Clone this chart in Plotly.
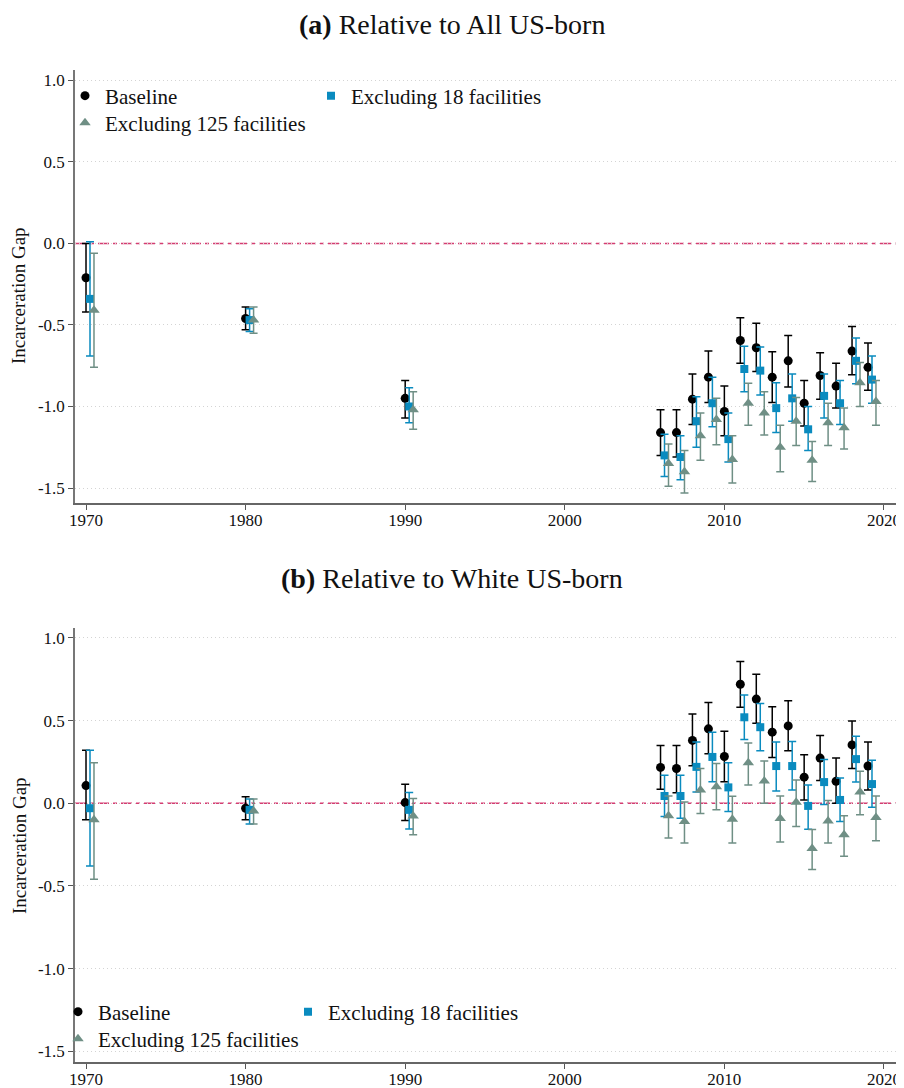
import plotly.graph_objects as go

# ---------------- data ----------------
years = [1970, 1980, 1990, 2006, 2007, 2008, 2009, 2010, 2011, 2012, 2013, 2014, 2015, 2016, 2017, 2018, 2019]

# Panel (a): relative to all US-born
base_a = [-0.21, -0.46, -0.95, -1.16, -1.16, -0.955, -0.82, -1.03, -0.595, -0.64, -0.82, -0.72, -0.98, -0.81, -0.875, -0.66, -0.76]
base_a_lo = [-0.42, -0.53, -1.07, -1.30, -1.31, -1.11, -0.975, -1.18, -0.735, -0.785, -0.975, -0.88, -1.12, -0.955, -1.01, -0.805, -0.90]
base_a_hi = [0.00, -0.39, -0.84, -1.02, -1.02, -0.80, -0.66, -0.875, -0.455, -0.49, -0.665, -0.565, -0.84, -0.67, -0.735, -0.51, -0.61]

ex18_a = [-0.34, -0.47, -1.00, -1.30, -1.31, -1.09, -0.98, -1.20, -0.77, -0.78, -1.01, -0.95, -1.14, -0.935, -0.98, -0.72, -0.835]
ex18_a_lo = [-0.69, -0.54, -1.10, -1.43, -1.45, -1.25, -1.125, -1.34, -0.91, -0.93, -1.16, -1.09, -1.27, -1.07, -1.11, -0.86, -0.98]
ex18_a_hi = [0.01, -0.40, -0.885, -1.17, -1.18, -0.94, -0.82, -1.04, -0.63, -0.635, -0.855, -0.80, -1.00, -0.80, -0.84, -0.58, -0.69]

ex125_a = [-0.41, -0.47, -1.02, -1.35, -1.40, -1.18, -1.08, -1.325, -0.98, -1.04, -1.25, -1.09, -1.33, -1.10, -1.13, -0.855, -0.97]
ex125_a_lo = [-0.76, -0.55, -1.14, -1.49, -1.53, -1.33, -1.235, -1.47, -1.115, -1.175, -1.40, -1.24, -1.46, -1.24, -1.26, -1.00, -1.115]
ex125_a_hi = [-0.06, -0.39, -0.91, -1.23, -1.27, -1.04, -0.95, -1.18, -0.857, -0.91, -1.115, -0.945, -1.215, -0.98, -1.01, -0.73, -0.84]

# Panel (b): relative to white US-born
base_b = [0.107, -0.03, 0.004, 0.217, 0.21, 0.38, 0.45, 0.283, 0.72, 0.63, 0.43, 0.468, 0.158, 0.273, 0.133, 0.353, 0.225]
base_b_lo = [-0.10, -0.10, -0.105, 0.084, 0.064, 0.227, 0.30, 0.13, 0.58, 0.484, 0.277, 0.317, 0.02, 0.137, 0.0, 0.21, 0.08]
base_b_hi = [0.32, 0.04, 0.115, 0.35, 0.35, 0.54, 0.61, 0.435, 0.857, 0.78, 0.584, 0.62, 0.293, 0.41, 0.273, 0.498, 0.37]

ex18_b = [-0.03, -0.04, -0.04, 0.044, 0.044, 0.22, 0.28, 0.096, 0.52, 0.46, 0.225, 0.225, -0.016, 0.128, 0.02, 0.267, 0.116]
ex18_b_lo = [-0.38, -0.125, -0.155, -0.08, -0.09, 0.068, 0.13, -0.05, 0.385, 0.317, 0.074, 0.08, -0.157, -0.008, -0.11, 0.128, -0.024]
ex18_b_hi = [0.32, 0.026, 0.065, 0.17, 0.17, 0.37, 0.43, 0.245, 0.655, 0.604, 0.37, 0.373, 0.11, 0.265, 0.152, 0.405, 0.26]

ex125_b = [-0.10, -0.047, -0.077, -0.076, -0.11, 0.08, 0.10, -0.096, 0.245, 0.134, -0.092, 0.006, -0.273, -0.107, -0.19, 0.068, -0.086]
ex125_b_lo = [-0.46, -0.125, -0.19, -0.21, -0.24, -0.062, -0.04, -0.24, 0.11, 0.0, -0.235, -0.14, -0.40, -0.24, -0.32, -0.07, -0.227]
ex125_b_hi = [0.245, 0.026, 0.028, 0.044, 0.008, 0.21, 0.24, 0.042, 0.365, 0.255, 0.044, 0.14, -0.158, 0.016, -0.076, 0.193, 0.044]

series_names = ["Baseline", "Excluding 18 facilities", "Excluding 125 facilities"]
x_ticks = [1970, 1980, 1990, 2000, 2010, 2020]
y_ticks = [1.0, 0.5, 0.0, -0.5, -1.0, -1.5]
y_ticktext = ["1.0", "0.5", "0.0", "-0.5", "-1.0", "-1.5"]
titles = ["<b>(a)</b> Relative to All US-born", "<b>(b)</b> Relative to White US-born"]
y_title = "Incarceration Gap"

# ---------------- style / geometry ----------------
FONT = "Liberation Serif, Times New Roman, serif"
colors = ["#000000", "#0a8bbf", "#6f8f85"]
symbols = ["circle", "square", "triangle-up"]
sizes = [9, 8, 10]
offsets = [0.0, 0.25, 0.5]

OFF = 8                     # default body margin of the html page
W, H = 896, 1080            # figure size so that it ends at the window edge
PLOT_L, PLOT_R = 75, 898    # page pixels of the plotting area
ML = PLOT_L - OFF
MR = W - (PLOT_R - OFF)


def py2paper(p):
    return 1 - (p - OFF) / H


def px2paper(p):
    return (p - OFF - ML) / (W - ML - MR)


fig = go.Figure()

panels = [
    (
        [(base_a, base_a_lo, base_a_hi), (ex18_a, ex18_a_lo, ex18_a_hi), (ex125_a, ex125_a_lo, ex125_a_hi)],
        "x", "y", ["legend", "legend2", "legend3"],
    ),
    (
        [(base_b, base_b_lo, base_b_hi), (ex18_b, ex18_b_lo, ex18_b_hi), (ex125_b, ex125_b_lo, ex125_b_hi)],
        "x2", "y2", ["legend4", "legend5", "legend6"],
    ),
]

for data, xa, ya, legs in panels:
    for i, (vals, lo, hi) in enumerate(data):
        xs = [yr + offsets[i] for yr in years]
        fig.add_trace(go.Scatter(
            x=xs, y=vals, mode="markers", name=series_names[i],
            xaxis=xa, yaxis=ya, legend=legs[i],
            marker=dict(symbol=symbols[i], size=sizes[i], color=colors[i], line=dict(width=0)),
            error_y=dict(type="data", symmetric=False,
                         array=[h - v for h, v in zip(hi, vals)],
                         arrayminus=[v - l for v, l in zip(vals, lo)],
                         color=colors[i], thickness=1.5, width=4),
            showlegend=True,
        ))

dom_a = [py2paper(503), py2paper(70)]
dom_b = [py2paper(1062), py2paper(628)]
xrange_ = [1969.31, 2020.88]

axis_common_x = dict(
    range=xrange_, tickvals=x_ticks, ticks="outside", ticklen=5, tickcolor="#555",
    showline=True, linecolor="#666", linewidth=1.5, showgrid=False, zeroline=False,
    tickfont=dict(family=FONT, size=17, color="#111"), ticklabelstandoff=-4,
)
axis_common_y = dict(
    tickvals=y_ticks, ticktext=y_ticktext, ticks="outside", ticklen=5, tickcolor="#555",
    showline=True, linecolor="#777", linewidth=1.5, showgrid=True, gridcolor="#d4d4d4",
    griddash="1px,3px", gridwidth=1, zeroline=False,
    tickfont=dict(family=FONT, size=17, color="#111"),
)

fig.update_layout(
    width=W, height=H,
    margin=dict(l=ML, r=MR, t=0, b=0, autoexpand=False),
    paper_bgcolor="white", plot_bgcolor="white",
    font=dict(family=FONT, color="#111"),
    xaxis=dict(domain=[0, 1], anchor="y", **axis_common_x),
    yaxis=dict(domain=dom_a, anchor="x", range=[-1.592, 1.064], **axis_common_y),
    xaxis2=dict(domain=[0, 1], anchor="y2", **axis_common_x),
    yaxis2=dict(domain=dom_b, anchor="x2", range=[-1.565, 1.060], **axis_common_y),
)

# zero reference lines
for ya, xa in [("y", "x"), ("y2", "x2")]:
    fig.add_shape(type="line", xref=f"{xa} domain", yref=ya, x0=0, x1=1, y0=0, y1=0,
                  line=dict(color="#d63c72", width=1.6, dash="11px,4px,4px,4px"), layer="below")

# panel titles
fig.add_annotation(text=titles[0], xref="paper", yref="paper", x=px2paper(452), y=1.0,
                   xanchor="center", yanchor="top", showarrow=False, borderpad=0,
                   font=dict(family=FONT, size=28, color="#111"))
fig.add_annotation(text=titles[1], xref="paper", yref="paper", x=px2paper(452), y=py2paper(578),
                   xanchor="center", yanchor="middle", showarrow=False, borderpad=0,
                   font=dict(family=FONT, size=28, color="#111"))

# y-axis titles (rotated)
for py in [296, 846]:
    fig.add_annotation(text=y_title, xref="paper", yref="paper", x=px2paper(19), y=py2paper(py),
                       xanchor="center", yanchor="middle", showarrow=False, textangle=-90,
                       font=dict(family=FONT, size=19, color="#111"))

# legends (one per entry, positioned as in the reference)
leg_pos = {
    "legend": (106, 96), "legend2": (352, 96), "legend3": (106, 123),
    "legend4": (99, 1012), "legend5": (329, 1012), "legend6": (99, 1039),
}
for name, (tx, ty) in leg_pos.items():
    fig.update_layout({name: dict(
        xref="container", yref="container", x=(tx - OFF - 41) / W, y=1 - (ty - OFF) / H,
        xanchor="left", yanchor="middle", bgcolor="rgba(0,0,0,0)", borderwidth=0,
        font=dict(family=FONT, size=21, color="#111"), itemwidth=30,
    )})

fig.write_html("out.html")
